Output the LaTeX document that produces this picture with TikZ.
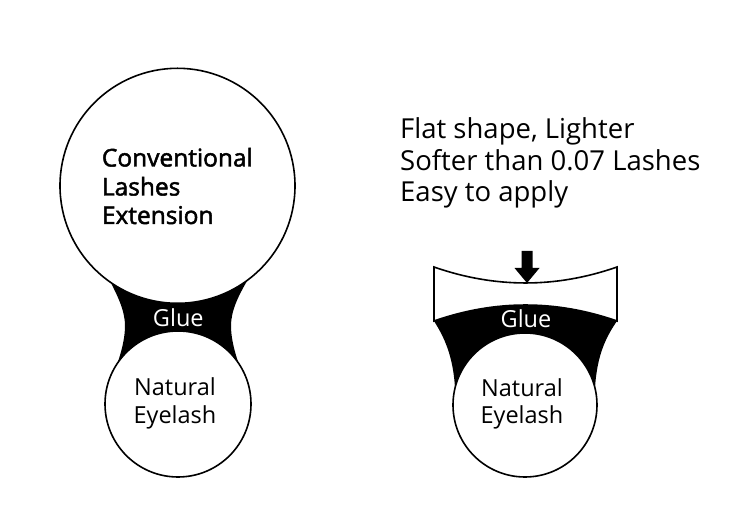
\documentclass[tikz,border=0pt]{standalone}
\usepackage{fontspec}
\setmainfont{Open Sans}
\newfontfamily\semib[FakeBold=2]{Open Sans}
\begin{document}
\begin{tikzpicture}[x=1pt,y=-1pt,
  outl/.style={draw=black,line width=1.6pt,fill=white},
  lbl/.style={inner sep=0pt,font=\fontsize{23.5}{28}\selectfont},
  big lbl/.style={inner sep=0pt,font=\fontsize{27.5}{32}\selectfont},
  hd/.style={inner sep=0pt,font=\fontsize{24.5}{28}\semib},
  glue/.style={fill=black,draw=none}]
\useasboundingbox[fill=white] (0,0) rectangle (750,518);
% ---------- left: conventional ----------
\fill[glue] (110,281) .. controls (117,295) and (125,310) .. (125,326)
  .. controls (125,345) and (116,370) .. (107,388) -- (249,388)
  .. controls (240,370) and (231,345) .. (231,326)
  .. controls (231,310) and (239,295) .. (247,281) -- cycle;
\node[circle,outl,minimum size=235pt,inner sep=0pt] (big) at (177.5,185.8) {};
\node[circle,outl,minimum size=146pt,inner sep=0pt] (natL) at (178,404) {};
\node[hd,anchor=base west] (c1) at (101.7,166.5) {Conventional};
\node[hd,anchor=base west] (c2) at (101.7,195.5) {Lashes};
\node[hd,anchor=base west] (c3) at (101.7,224) {Extension};
\node[lbl,anchor=base,text=white] (glueL) at (178.3,326.5) {Glue};
\node[lbl,anchor=base] (n1L) at (175,396) {Natural};
\node[lbl,anchor=base] (n2L) at (175,424) {Eyelash};
% ---------- right: flat ----------
\fill[glue] (434,321) .. controls (444,337) and (453,355) .. (455,388) -- (595,388)
  .. controls (597,355) and (606,337) .. (617,321)
  .. controls (556,299.7) and (495,299.7) .. (434,321) -- cycle;
\path[outl] (434,267) .. controls (495,288.3) and (556,288.3) .. (617,267)
  -- (617,321) .. controls (556,299.7) and (495,299.7) .. (434,321) -- cycle;
\coordinate (tip) at (527,283);
\fill[black] (521.5,251) -- (532.5,251) -- (532.5,268) -- (539.5,268) -- (tip)
  -- (514.5,268) -- (521.5,268) -- cycle;
\node[circle,outl,minimum size=144pt,inner sep=0pt] (natR) at (525,405) {};
\node[lbl,anchor=base,text=white] (glueR) at (526,328) {Glue};
\node[lbl,anchor=base] (n1R) at (522,397) {Natural};
\node[lbl,anchor=base] (n2R) at (522,424) {Eyelash};
\node[big lbl,anchor=base west] (t1) at (400,138.5) {Flat shape, Lighter};
\node[big lbl,anchor=base west] (t2) at (400,170.5) {Softer than 0.07 Lashes};
\node[big lbl,anchor=base west] (t3) at (400,202) {Easy to apply};
\end{tikzpicture}
\end{document}
